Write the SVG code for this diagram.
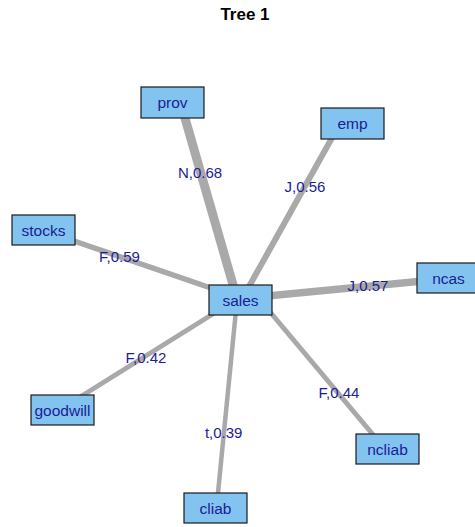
<svg xmlns="http://www.w3.org/2000/svg" width="475" height="527" viewBox="0 0 475 527">
<style>
.bg{fill:#ffffff}
.title{font-family:"Liberation Sans",Arial,sans-serif;font-size:17px;font-weight:bold;fill:#000000;text-anchor:middle}
.e{stroke:#A9A9A9;fill:none;stroke-linecap:butt}
.el{font-family:"Liberation Sans",Arial,sans-serif;font-size:15px;fill:#1C1C96;text-anchor:middle}
.box{fill:#82C4EF;stroke:#1a1a1a;stroke-width:1.2}
.nl{font-family:"Liberation Sans",Arial,sans-serif;font-size:15.5px;fill:#1C1C96;text-anchor:middle}
</style>
<rect class="bg" x="0" y="0" width="475" height="527"/>
<text class="title" x="245" y="20">Tree 1</text>
<g id="connectors">
  <line class="e" x1="237.4" y1="300" x2="180.5" y2="102.5" stroke-width="9"/>
  <line class="e" x1="241.5" y1="300" x2="340" y2="123.5" stroke-width="6"/>
  <line class="e" x1="240" y1="298" x2="43.5" y2="230.5" stroke-width="5.5"/>
  <line class="e" x1="240" y1="298.7" x2="480" y2="275.6" stroke-width="7.5"/>
  <line class="e" x1="240" y1="297" x2="62.5" y2="408" stroke-width="5"/>
  <line class="e" x1="237" y1="300" x2="216.5" y2="508" stroke-width="4.5"/>
  <line class="e" x1="260" y1="300" x2="385" y2="449" stroke-width="5"/>
  <text class="el" x="200" y="178">N,0.68</text>
  <text class="el" x="305" y="192">J,0.56</text>
  <text class="el" x="119.5" y="262">F,0.59</text>
  <text class="el" x="368" y="291">J,0.57</text>
  <text class="el" x="146" y="363">F,0.42</text>
  <text class="el" x="223.7" y="438">t,0.39</text>
  <text class="el" x="339" y="398">F,0.44</text>
</g>
<g id="node-prov"><rect class="box" x="141" y="87" width="63" height="31"/><text class="nl" x="172.5" y="108">prov</text></g>
<g id="node-emp"><rect class="box" x="321" y="108" width="63" height="31"/><text class="nl" x="352.5" y="129">emp</text></g>
<g id="node-stocks"><rect class="box" x="12" y="215" width="63" height="30"/><text class="nl" x="43.5" y="235.5">stocks</text></g>
<g id="node-sales"><rect class="box" x="209" y="285" width="63" height="30"/><text class="nl" x="240.5" y="305.5">sales</text></g>
<g id="node-ncas"><rect class="box" x="417" y="263" width="63" height="30"/><text class="nl" x="448.5" y="283.5">ncas</text></g>
<g id="node-goodwill"><rect class="box" x="31" y="395" width="63" height="30"/><text class="nl" x="62.5" y="415.5">goodwill</text></g>
<g id="node-ncliab"><rect class="box" x="356" y="434" width="63" height="30"/><text class="nl" x="387.5" y="454.5">ncliab</text></g>
<g id="node-cliab"><rect class="box" x="184" y="493" width="63" height="30"/><text class="nl" x="215.5" y="513.5">cliab</text></g>
</svg>
